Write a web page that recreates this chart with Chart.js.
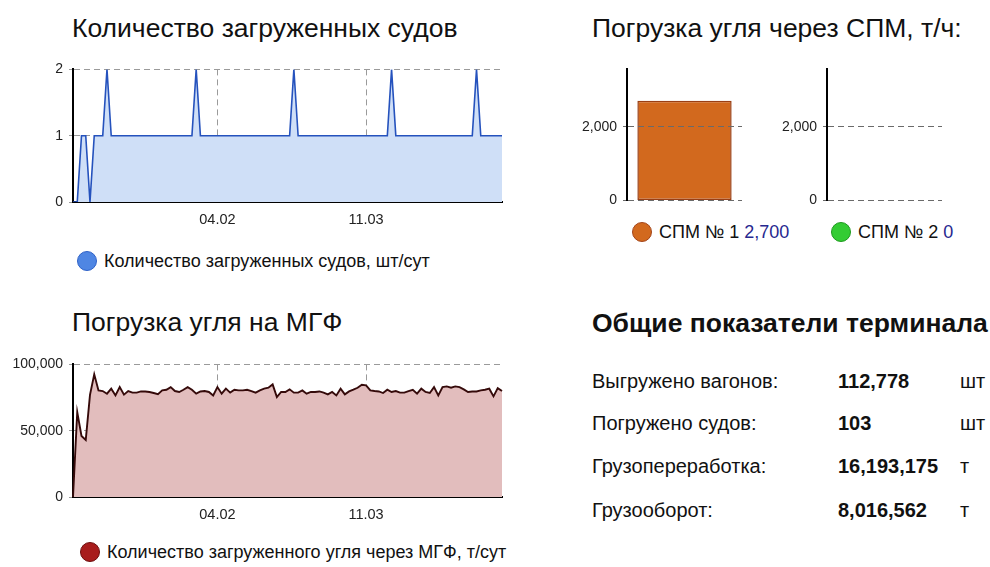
<!DOCTYPE html>
<html lang="ru">
<head>
<meta charset="utf-8">
<script src="https://cdn.jsdelivr.net/npm/chart.js@4.4.1/dist/chart.umd.min.js"></script>
<style>
  html, body { margin: 0; padding: 0; background: #fff; }
  body { width: 990px; height: 567px; position: relative; overflow: hidden; font-family: "Liberation Sans", Arial, sans-serif; color: #111; }
  .box { position: absolute; }
  .title { position: absolute; font-size: 26.5px; white-space: nowrap; color: #111; line-height: 30px; }
  .legend { position: absolute; font-size: 18px; white-space: nowrap; display: flex; align-items: center; line-height: 22px; color: #111; }
  .dot { width: 20px; height: 20px; border-radius: 50%; box-sizing: border-box; border: 1.5px solid; margin-right: 7px; }
  .val { color: #27288f; margin-left: 5px; }
  .stats { position: absolute; left: 592px; top: 305px; }
  .stats h2 { margin: 0; font-size: 26.5px; font-weight: bold; line-height: 36px; white-space: nowrap; }
  .row { position: absolute; font-size: 20px; white-space: nowrap; line-height: 24px; }
  .row b { position: absolute; left: 246px; }
  .row span.u { position: absolute; left: 368px; }
</style>
</head>
<body>

<div class="title" style="left:72px; top:13px;">Количество загруженных судов</div>
<div class="title" style="left:592px; top:13px;">Погрузка угля через СПМ, т/ч:</div>
<div class="title" style="left:72px; top:307px;">Погрузка угля на МГФ</div>

<div class="box" style="left:20px; top:55px; width:500px; height:180px;"><canvas id="vesselChart"></canvas></div>
<div class="box" style="left:0px; top:350px; width:520px; height:180px;"><canvas id="mgfChart"></canvas></div>
<div class="box" style="left:570px; top:55px; width:185px; height:160px;"><canvas id="spm1Chart"></canvas></div>
<div class="box" style="left:770px; top:55px; width:185px; height:160px;"><canvas id="spm2Chart"></canvas></div>

<div class="legend" id="vesselLegend" style="left:77px; top:250px;"></div>
<div class="legend" id="mgfLegend" style="left:80px; top:541px;"></div>
<div class="legend" id="spm1Legend" style="left:632px; top:221px;"></div>
<div class="legend" id="spm2Legend" style="left:831px; top:221px;"></div>

<div class="stats"><h2>Общие показатели терминала</h2></div>
<div id="statRows"></div>

<script>
// данные
const startDay = new Date(2023, 0, 1);
const dayCount = 102;
const xTickLabels = ["04.02", "11.03"];

const vesselCounts = [
  0, 0, 1, 1, 0, 1, 1, 1, 2, 1,
  1, 1, 1, 1, 1, 1, 1, 1, 1, 1,
  1, 1, 1, 1, 1, 1, 1, 1, 1, 2,
  1, 1, 1, 1, 1, 1, 1, 1, 1, 1,
  1, 1, 1, 1, 1, 1, 1, 1, 1, 1,
  1, 1, 2, 1, 1, 1, 1, 1, 1, 1,
  1, 1, 1, 1, 1, 1, 1, 1, 1, 1,
  1, 1, 1, 1, 1, 2, 1, 1, 1, 1,
  1, 1, 1, 1, 1, 1, 1, 1, 1, 1,
  1, 1, 1, 1, 1, 2, 1, 1, 1, 1,
  1, 1
];

const mgfTons = [
  0, 64000, 46000, 43000, 77000, 92500, 80400, 79900, 77900, 81700,
  76600, 82900, 77200, 79900, 78700, 78700, 79600, 79600, 79200, 78400,
  77600, 80400, 80900, 82900, 79900, 79200, 80900, 82900, 80900, 77900,
  79600, 79900, 79200, 76600, 82900, 77900, 81700, 78700, 80900, 80400,
  80400, 80900, 79900, 78700, 80400, 81700, 82400, 84900, 75400, 79200,
  79200, 81200, 78700, 78700, 80400, 77900, 79200, 79200, 79600, 78700,
  77400, 79200, 76600, 81700, 77400, 79600, 80900, 82400, 84700, 84200,
  80400, 79900, 79600, 78400, 80900, 79200, 79900, 78700, 78700, 79900,
  80900, 77900, 81700, 79200, 78400, 82900, 76600, 82900, 83400, 82400,
  83400, 82900, 81200, 79200, 79600, 79600, 80400, 80900, 81700, 75900,
  82100, 79900
];

const vesselTicks = [0, 1, 2];
const mgfTicks = [0, 50000, 100000];
const spmTicks = [0, 2000];
const spmNames = ["СПМ № 1", "СПМ № 2"];
const spmValues = [2700, 0];

const statLabels = ["Выгружено вагонов:", "Погружено судов:", "Грузопереработка:", "Грузооборот:"];
const statValues = [112778, 103, 16193175, 8016562];
const statUnits = ["шт", "шт", "т", "т"];

// подписи дней
const dayLabels = [];
for (let i = 0; i < dayCount; i++) {
  const d = new Date(startDay.getTime() + i * 86400000);
  dayLabels.push(String(d.getDate()).padStart(2, "0") + "." + String(d.getMonth() + 1).padStart(2, "0"));
}

Chart.defaults.font.family = '"Liberation Sans", Arial, sans-serif';
Chart.defaults.font.size = 14;
Chart.defaults.color = "#222";
Chart.defaults.animation = false;

const dash = [6, 4];
const gridColor = "#9a9a9a";

function lineChart(id, data, yTicks, line, fill, yWidth, lineWidth) {
  new Chart(document.getElementById(id), {
    type: "line",
    data: {
      labels: dayLabels,
      datasets: [{
        data: data,
        borderColor: line,
        backgroundColor: fill,
        borderWidth: lineWidth,
        fill: "origin",
        pointRadius: 0,
        tension: 0
      }]
    },
    options: {
      responsive: true,
      maintainAspectRatio: false,
      locale: "en-US",
      layout: { padding: { top: 14, right: 18, left: 0, bottom: 0 } },
      plugins: { legend: { display: false }, tooltip: { enabled: false } },
      scales: {
        x: {
          grid: { color: gridColor, drawTicks: false },
          border: { color: "#000", width: 2, dash: dash },
          ticks: { autoSkip: false, maxRotation: 0, padding: 9, font: { size: 14.5 } },
          afterBuildTicks: (axis) => {
            axis.ticks = axis.ticks.filter((t) => xTickLabels.includes(dayLabels[t.value]));
          },
          afterFit: (axis) => { axis.height = 33; }
        },
        y: {
          min: yTicks[0],
          max: yTicks[yTicks.length - 1],
          grid: { color: gridColor, tickLength: 4 },
          border: { color: "#000", width: 2, dash: dash },
          ticks: { padding: 6 },
          afterBuildTicks: (axis) => { axis.ticks = yTicks.map((v) => ({ value: v })); },
          afterFit: (axis) => { axis.width = yWidth; }
        }
      }
    }
  });
}

function barChart(id, name, value, color, border) {
  new Chart(document.getElementById(id), {
    type: "bar",
    data: {
      labels: [name],
      datasets: [{
        data: [value],
        backgroundColor: color,
        borderColor: border,
        borderWidth: value > 0 ? 1.5 : 0,
        borderSkipped: false,
        barPercentage: 0.82,
        categoryPercentage: 1
      }]
    },
    options: {
      responsive: true,
      maintainAspectRatio: false,
      locale: "en-US",
      layout: { padding: { top: 13, right: 13, left: 0, bottom: 14 } },
      plugins: { legend: { display: false }, tooltip: { enabled: false } },
      scales: {
        x: { display: false },
        y: {
          min: 0,
          max: 3550,
          grid: { color: "#6a6a6a", tickLength: 4, z: 1 },
          border: { color: "#000", width: 2, dash: dash, z: 1 },
          ticks: { padding: 6 },
          afterBuildTicks: (axis) => { axis.ticks = spmTicks.map((v) => ({ value: v })); },
          afterFit: (axis) => { axis.width = 57; }
        }
      }
    }
  });
}

lineChart("vesselChart", vesselCounts, vesselTicks, "#2552bd", "#cfdff7", 53, 1.6);
lineChart("mgfChart", mgfTons, mgfTicks, "#350a0a", "#e2bdbd", 73, 1.9);
barChart("spm1Chart", spmNames[0], spmValues[0], "#d2691e", "#9a3f14");
barChart("spm2Chart", spmNames[1], spmValues[1], "#33cc33", "#1e9a1e");

// легенды
function legend(id, text, fill, border, val) {
  const el = document.getElementById(id);
  el.innerHTML = '<div class="dot" style="background:' + fill + ';border-color:' + border + '"></div><span>' + text + '</span>' +
    (val !== undefined ? '<span class="val">' + val.toLocaleString("en-US") + '</span>' : "");
}
legend("vesselLegend", "Количество загруженных судов, шт/сут", "#4f86e3", "#2f62c8");
legend("mgfLegend", "Количество загруженного угля через МГФ, т/сут", "#a81c1c", "#6e0e0e");
legend("spm1Legend", spmNames[0], "#d2691e", "#a4451a", spmValues[0]);
legend("spm2Legend", spmNames[1], "#33cc33", "#1e9a1e", spmValues[1]);

// таблица показателей
const rows = document.getElementById("statRows");
const rowTops = [369, 411, 454, 498];
statLabels.forEach((lab, i) => {
  const r = document.createElement("div");
  r.className = "row";
  r.style.left = "592px";
  r.style.top = rowTops[i] + "px";
  r.innerHTML = lab + "<b>" + statValues[i].toLocaleString("en-US") + "</b><span class=\"u\">" + statUnits[i] + "</span>";
  rows.appendChild(r);
});
</script>
</body>
</html>
